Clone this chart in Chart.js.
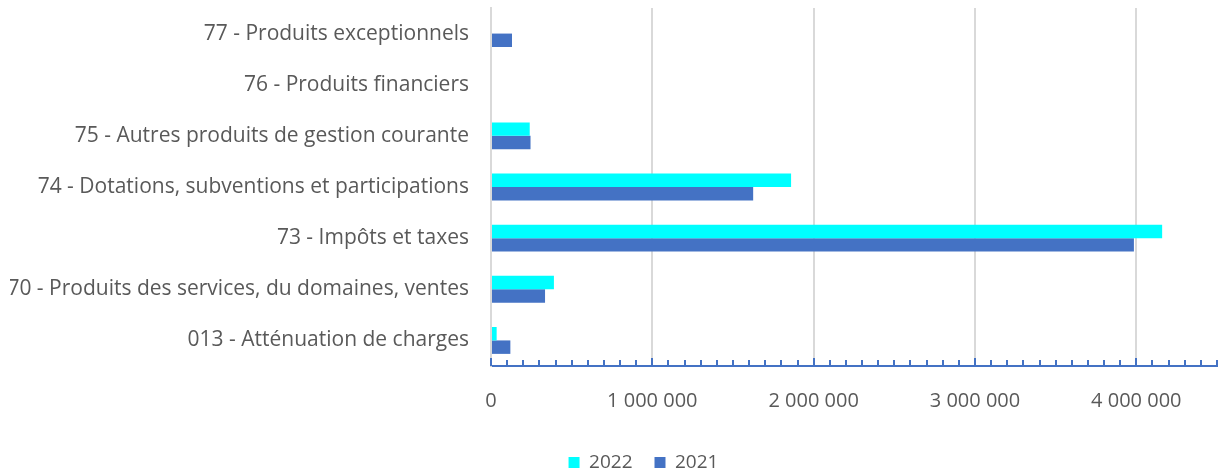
<!DOCTYPE html>
<html>
<head>
<meta charset="utf-8">
<script src="https://cdn.jsdelivr.net/npm/chart.js@4.4.1/dist/chart.umd.min.js"></script>
<style>
  html, body { margin: 0; padding: 0; background: #fff; }
  #wrap { width: 1219px; height: 475px; }
</style>
</head>
<body>
<div id="wrap"><canvas id="recettesChart" width="1219" height="475"></canvas></div>
<script>
const categories = [
    '77 - Produits exceptionnels',
    '76 - Produits financiers',
    '75 - Autres produits de gestion courante',
    '74 - Dotations, subventions et participations',
    '73 - Impôts et taxes',
    '70 - Produits des services, du domaines, ventes',
    '013 - Atténuation de charges'
];
const values2022 = [0, 0, 240000, 1860000, 4160000, 390000, 35000];
const values2021 = [130000, 0, 245000, 1625000, 3985000, 335000, 120000];
const xMax = 4500000;
const xStep = 100000;

const fontFamily = "'Open Sans', sans-serif";
const textColor = '#595959';
const axisBlue = '#4472C4';

const fmt = v => String(v).replace(/\B(?=(\d{3})+(?!\d))/g, ' ');

// small tick marks drawn above the axis line, like the original
const innerTicks = {
    id: 'innerTicks',
    afterDraw(chart) {
        const x = chart.scales.x;
        const c = chart.ctx;
        const bottom = chart.chartArea.bottom;
        c.save();
        c.strokeStyle = axisBlue;
        c.lineWidth = 2;
        x.ticks.forEach(t => {
            const px = Math.round(x.getPixelForValue(t.value));
            const len = t.value % 1000000 === 0 ? 8 : 6;
            c.beginPath();
            c.moveTo(px, bottom);
            c.lineTo(px, bottom - len);
            c.stroke();
        });
        c.restore();
    }
};

// the legend sits a little right of the page centre in the original
const legendShift = {
    id: 'legendShift',
    afterLayout(chart) {
        const lg = chart.legend;
        lg.left += 30;
        lg.right += 30;
    }
};

const ctx = document.getElementById('recettesChart').getContext('2d');
new Chart(ctx, {
    type: 'bar',
    data: {
        labels: categories,
        datasets: [
            { label: '2022', data: values2022, backgroundColor: '#00FFFF' },
            { label: '2021', data: values2021, backgroundColor: axisBlue }
        ]
    },
    options: {
        indexAxis: 'y',
        responsive: false,
        animation: false,
        layout: { padding: { left: 10, right: 2, top: 8, bottom: -7 } },
        datasets: { bar: { barPercentage: 1, categoryPercentage: 0.526 } },
        plugins: {
            legend: {
                position: 'bottom',
                labels: {
                    boxWidth: 11, boxHeight: 11, padding: 22,
                    color: textColor,
                    font: { family: fontFamily, size: 19 }
                }
            },
            tooltip: { enabled: false }
        },
        scales: {
            x: {
                min: 0, max: xMax,
                grid: {
                    color: c => c.tick && c.tick.value % 1000000 === 0 ? '#d9d9d9' : 'rgba(0,0,0,0)',
                    lineWidth: 2,
                    drawTicks: false
                },
                border: { color: axisBlue, width: 2 },
                ticks: {
                    stepSize: xStep,
                    autoSkip: false,
                    maxRotation: 0,
                    padding: 23,
                    color: textColor,
                    font: { family: fontFamily, size: 20 },
                    callback: v => v % 1000000 === 0 ? fmt(v) : ''
                },
                afterFit: s => { s.height = 65; s.paddingLeft = 0; s.paddingRight = 0; }
            },
            y: {
                grid: { display: false, drawTicks: false },
                border: { color: '#d9d9d9', width: 2 },
                ticks: {
                    padding: 22,
                    color: textColor,
                    font: { family: fontFamily, size: 21 }
                },
                afterFit: s => { s.width = 481; s.paddingTop = 0; s.paddingBottom = 0; }
            }
        }
    },
    plugins: [innerTicks, legendShift]
});
</script>
</body>
</html>
